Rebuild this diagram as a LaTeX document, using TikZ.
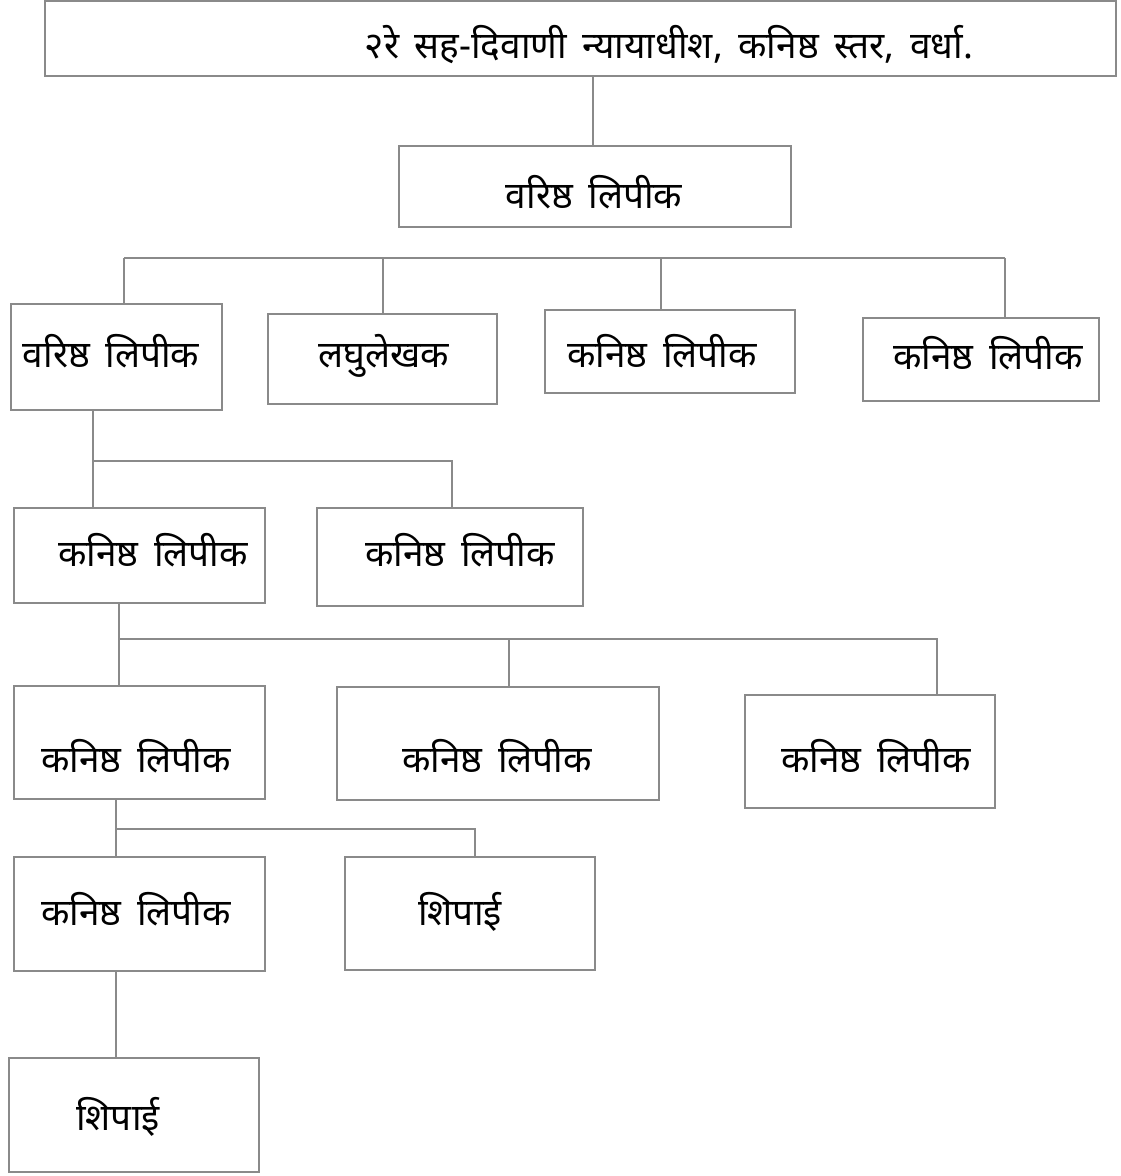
\documentclass[tikz,border=0pt]{standalone}
\usepackage{fontspec}
\newfontfamily\deva[Script=Devanagari]{Noto Sans}
\definecolor{lg}{RGB}{138,138,138}
\newcommand{\wsp}{\hspace{0.42em}}
\begin{document}
\begin{tikzpicture}[x=1pt,y=-1pt,
  box/.style={draw=lg,line width=1.1pt,rectangle,inner sep=0pt,fill=none},
  lbl/.style={anchor=base,inner sep=0pt,font=\deva\fontsize{37}{44}\selectfont},
  conn/.style={draw=lg,line width=1.1pt}]
\useasboundingbox (0,0) rectangle (1120,1176);
% boxes
\node[box,minimum width=1071pt,minimum height=75pt] (top) at (580.5,38.5) {};
\node[box,minimum width=392pt,minimum height=81pt] (b1) at (595,186.5) {};
\node[box,minimum width=211pt,minimum height=106pt] (a) at (116.5,357) {};
\node[box,minimum width=229pt,minimum height=90pt] (l) at (382.5,359) {};
\node[box,minimum width=250pt,minimum height=83pt] (k1) at (670,351.5) {};
\node[box,minimum width=236pt,minimum height=83pt] (k2) at (981,359.5) {};
\node[box,minimum width=251pt,minimum height=95pt] (c1) at (139.5,555.5) {};
\node[box,minimum width=266pt,minimum height=98pt] (c2) at (450,557) {};
\node[box,minimum width=251pt,minimum height=113pt] (d1) at (139.5,742.5) {};
\node[box,minimum width=322pt,minimum height=113pt] (d2) at (498,743.5) {};
\node[box,minimum width=250pt,minimum height=113pt] (d3) at (870,751.5) {};
\node[box,minimum width=251pt,minimum height=114pt] (e1) at (139.5,914) {};
\node[box,minimum width=250pt,minimum height=113pt] (e2) at (470,913.5) {};
\node[box,minimum width=250pt,minimum height=114pt] (f) at (134,1115) {};
% labels
\node[lbl] (ttop) at (669,58) {२रे\wsp सह-दिवाणी\wsp न्यायाधीश,\wsp कनिष्ठ\wsp स्तर,\wsp वर्धा.};
\node[lbl] (tb1) at (594,208) {वरिष्ठ\wsp लिपीक};
\node[lbl] (ta) at (111,367) {वरिष्ठ\wsp लिपीक};
\node[lbl] (tl) at (384,367) {लघुलेखक};
\node[lbl] (tk1) at (662,367) {कनिष्ठ\wsp लिपीक};
\node[lbl] (tk2) at (988,369) {कनिष्ठ\wsp लिपीक};
\node[lbl] (tc1) at (153,566) {कनिष्ठ\wsp लिपीक};
\node[lbl] (tc2) at (460,566) {कनिष्ठ\wsp लिपीक};
\node[lbl] (td1) at (136,772) {कनिष्ठ\wsp लिपीक};
\node[lbl] (td2) at (497,772) {कनिष्ठ\wsp लिपीक};
\node[lbl] (td3) at (876,772) {कनिष्ठ\wsp लिपीक};
\node[lbl] (te1) at (136,925) {कनिष्ठ\wsp लिपीक};
\node[lbl] (te2) at (460,925) {शिपाई};
\node[lbl] (tf) at (118,1130) {शिपाई};
% bus coordinates
\coordinate (p0) at (593,100);
\coordinate (p1a) at (124,258);
\coordinate (p1b) at (383,258);
\coordinate (p1c) at (661,258);
\coordinate (p1d) at (1005,258);
\coordinate (p2a) at (93,461);
\coordinate (p2b) at (452,461);
\coordinate (p3a) at (119,639);
\coordinate (p3b) at (509,639);
\coordinate (p3c) at (937,639);
\coordinate (p4a) at (116,829);
\coordinate (p4b) at (475,829);
% connectors
\draw[conn] (top.south -| p0) -- (b1.north -| p0);
\draw[conn] (p1a) -- (p1d);
\draw[conn] (p1a) -- (p1a |- a.north);
\draw[conn] (p1b) -- (p1b |- l.north);
\draw[conn] (p1c) -- (p1c |- k1.north);
\draw[conn] (p1d) -- (p1d |- k2.north);
\draw[conn] (a.south -| p2a) -- (p2a) -- (p2b) -- (c2.north -| p2b);
\draw[conn] (p2a) -- (p2a |- c1.north);
\draw[conn] (c1.south -| p3a) -- (p3a) -- (p3c) -- (p3c |- d3.north);
\draw[conn] (p3a) -- (p3a |- d1.north);
\draw[conn] (p3b) -- (p3b |- d2.north);
\draw[conn] (d1.south -| p4a) -- (p4a) -- (p4b) -- (p4b |- e2.north);
\draw[conn] (p4a) -- (p4a |- e1.north);
\draw[conn] (e1.south -| p4a) -- (f.north -| p4a);
\end{tikzpicture}
\end{document}
